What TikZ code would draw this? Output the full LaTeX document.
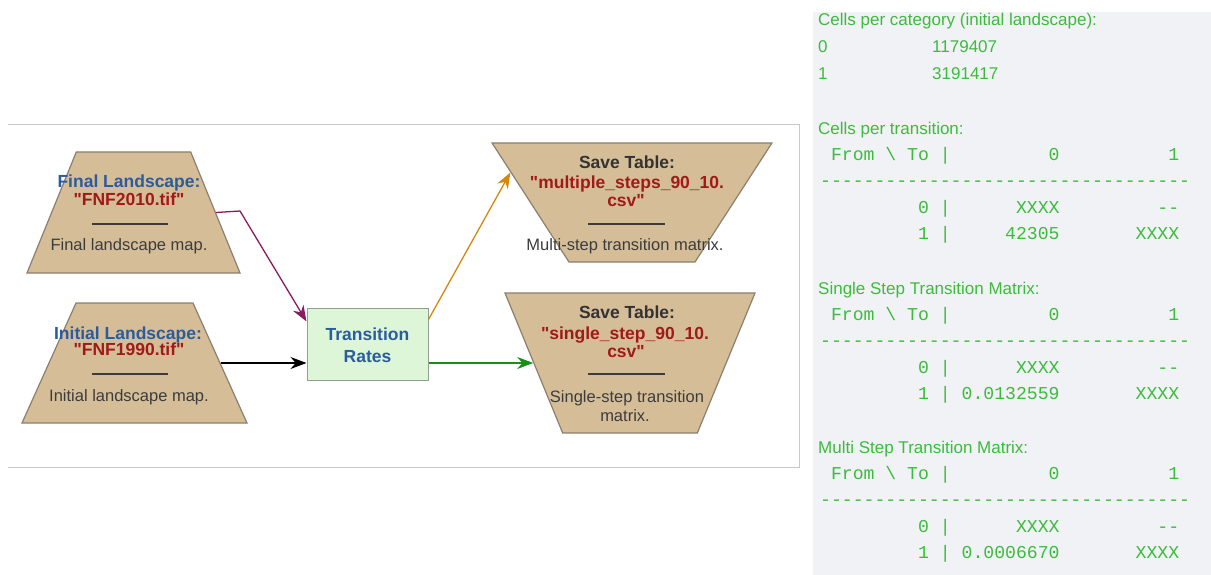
\documentclass[tikz,border=0pt]{standalone}
\usepackage{fontspec}
\setmainfont{Liberation Sans}[Ligatures=TeXOff]
\newfontfamily\tabfont{Liberation Mono}[Ligatures=TeXOff]
\usepackage{xcolor}
\usepackage{tikz}
\usetikzlibrary{calc}
\usetikzlibrary{arrows.meta}
\usetikzlibrary{shapes.geometric}
\usetikzlibrary{positioning}

\definecolor{tanfill}{HTML}{D5BD97}
\definecolor{tanline}{HTML}{8C7F6E}
\definecolor{ratesfill}{HTML}{DDF6D8}
\definecolor{ratesline}{HTML}{8FA08F}
\definecolor{ttlblue}{HTML}{2B5C9E}
\definecolor{fnred}{HTML}{A11A1A}
\definecolor{desc}{HTML}{3C3C3C}
\definecolor{savegray}{HTML}{333333}
\definecolor{purp}{HTML}{8A1C5E}
\definecolor{orng}{HTML}{D4880E}
\definecolor{grn}{HTML}{1C8C1C}
\definecolor{panelbg}{HTML}{F0F2F5}
\definecolor{outgrn}{HTML}{3DBB3D}
\definecolor{frame}{HTML}{CACACA}

\tikzset{>={Stealth[length=16pt,width=12pt]}}
\tikzstyle{trap} = [draw=tanline, fill=tanfill, line width=1.2pt, trapezium, trapezium stretches=true, inner sep=2pt]
\tikzstyle{ttl} = [draw=none, inner sep=0, anchor=base, font=\fontsize{17.5}{18}\selectfont\bfseries]
\tikzstyle{dsc} = [draw=none, inner sep=0, anchor=base, text=desc, font=\fontsize{16.5}{18}\selectfont]
\tikzstyle{sep} = [draw=desc, line width=1.3pt]
\tikzstyle{arr} = [->, line width=1.3pt]
\tikzstyle{hd} = [draw=none, inner sep=0, anchor=base west, text=outgrn, font=\fontsize{17}{18}\selectfont]
\tikzstyle{mono} = [draw=none, inner sep=0, anchor=base west, text=outgrn, font=\fontsize{18.13}{19}\tabfont]

\begin{document}
\begin{tikzpicture}[x=1pt, y=-1pt]
\useasboundingbox (0,0) rectangle (1211,575);
\draw [draw=frame, line width=1pt] (8,125) -- (799,125) -- (799,467) -- (8,467);

\node [trap, minimum width=213, minimum height=121, trapezium left angle=66.7, trapezium right angle=66.7] (fin) at (133.5,212.5) {};
\node [trap, minimum width=225, minimum height=120, trapezium left angle=65.2, trapezium right angle=65.2] (ini) at (134.5,363) {};
\node [draw=ratesline, fill=ratesfill, line width=1pt, minimum width=121, minimum height=72, inner sep=0] (rates) at (367.5,344) {};
\node [trap, minimum width=280, minimum height=119, trapezium left angle=121.4, trapezium right angle=121.4] (sv1) at (632,202.5) {};
\node [trap, minimum width=250, minimum height=140, trapezium left angle=113.2, trapezium right angle=113.2] (sv2) at (630,363) {};

\node [ttl, text=ttlblue] (finT) at (129,188) {Final Landscape:};
\node [ttl, text=fnred] (finF) at (129,206) {"FNF2010.tif"};
\draw [sep] (92,224) -- (168,224);
\node [dsc] (finD) at (129,251) {Final landscape map.};

\node [ttl, text=ttlblue] (iniT) at (128,339) {Initial Landscape:};
\node [ttl, text=fnred] (iniF) at (129,355) {"FNF1990.tif"};
\draw [sep] (92,374) -- (168,374);
\node [dsc] (iniD) at (129,401) {Initial landscape map.};

\node [ttl, text=ttlblue] (ratesT) at (367.5,340) {Transition};
\node [ttl, text=ttlblue] (ratesR) at (367.5,362) {Rates};

\node [ttl, text=savegray] (sv1T) at (627,168) {Save Table:};
\node [ttl, text=fnred] (sv1F) at (627,189) {"multiple\_steps\_90\_10.};
\node [ttl, text=fnred] (sv1C) at (626,207) {csv"};
\draw [sep] (588,224) -- (665,224);
\node [dsc] (sv1D) at (625,251) {Multi-step transition matrix.};

\node [ttl, text=savegray] (sv2T) at (627,318) {Save Table:};
\node [ttl, text=fnred] (sv2F) at (625,339) {"single\_step\_90\_10.};
\node [ttl, text=fnred] (sv2C) at (626,357) {csv"};
\draw [sep] (588,374) -- (665,374);
\node [dsc] (sv2D) at (627,402) {Single-step transition};
\node [dsc] (sv2E) at (625,421) {matrix.};

\coordinate (bend) at (240,211);
\draw [arr, draw=purp] (fin.east) -- (bend) -- ([yshift=-14pt]rates.north west);
\draw [arr, draw=black] (ini.east) -- (ini.east -| rates.west);
\draw [arr, draw=orng] ([yshift=-12pt]rates.north east) -- ($(sv1.top left corner)!0.25!(sv1.bottom left corner)$);
\draw [arr, draw=grn] (rates.east |- sv2.west) -- (sv2.west);

%output panel
\fill [panelbg] (813,12) rectangle (1211,575);
\node [hd] (cat) at (818,26) {Cells per category (initial landscape):};
\node [hd] (cat0) at (818,53) {0};
\node [hd] (cat0v) at (932,53) {1179407};
\node [hd] (cat1) at (818,80) {1};
\node [hd] (cat1v) at (932,80) {3191417};

\node [hd] (cnt) at (818,135) {Cells per transition:};
\node [mono] (cntH) at (820,161) {~From~\textbackslash~To~|~~~~~~~~~0~~~~~~~~~~1};
\node [mono] (cntL) at (820,187) {----------------------------------};
\node [mono] (cnt0) at (820,214) {~~~~~~~~~0~|~~~~~~XXXX~~~~~~~~~--};
\node [mono] (cnt1) at (820,240) {~~~~~~~~~1~|~~~~~42305~~~~~~~XXXX};

\node [hd] (one) at (818,294) {Single Step Transition Matrix:};
\node [mono] (oneH) at (820,320) {~From~\textbackslash~To~|~~~~~~~~~0~~~~~~~~~~1};
\node [mono] (oneL) at (820,346) {----------------------------------};
\node [mono] (one0) at (820,373) {~~~~~~~~~0~|~~~~~~XXXX~~~~~~~~~--};
\node [mono] (one1) at (820,399) {~~~~~~~~~1~|~0.0132559~~~~~~~XXXX};

\node [hd] (mul) at (818,453) {Multi Step Transition Matrix:};
\node [mono] (mulH) at (820,479) {~From~\textbackslash~To~|~~~~~~~~~0~~~~~~~~~~1};
\node [mono] (mulL) at (820,505) {----------------------------------};
\node [mono] (mul0) at (820,532) {~~~~~~~~~0~|~~~~~~XXXX~~~~~~~~~--};
\node [mono] (mul1) at (820,558) {~~~~~~~~~1~|~0.0006670~~~~~~~XXXX};
\end{tikzpicture}
\end{document}
